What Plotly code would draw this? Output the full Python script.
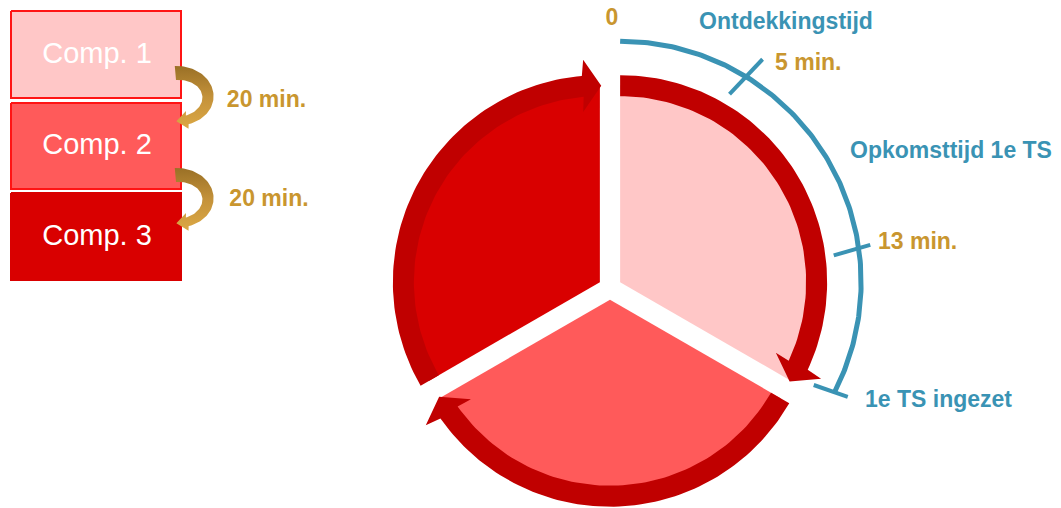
import math
import plotly.graph_objects as go

# ---- data ----
compartments = ["Comp. 1", "Comp. 2", "Comp. 3"]
transfer_minutes = [20, 20]
timeline_minutes = [0, 5, 13]
timeline_end_minutes = 18.6          # "1e TS ingezet"
phase_labels = ["Ontdekkingstijd", "Opkomsttijd 1e TS"]
end_label = "1e TS ingezet"

# ---- styles / layout ----
comp_fill = ["#FFC7C7", "#FF5A5A", "#D90000"]
comp_line = ["#FF1414", "#FF1414", "#D90000"]
RING = "#C00000"
BLUE = "#3A93B4"
GOLD = "#C9962F"
FONT = "Liberation Sans, Arial, sans-serif"

W, H = 1061, 508
CX, CY = 610, 288          # pie centre
GAP = 11.7                 # explode distance of each sector
R_FILL = 197
R_IN, R_OUT = 186, 207     # arrow ring
HEAD_IN, HEAD_OUT = 171, 223
R_TIME = 241
DEG_PER_MIN = 6.3

BOX_X0, BOX_X1 = 10, 182
BOX_TOP = [10, 102, 192]
BOX_H = [89, 88, 89]
CURL_Y = [97, 199]

tick_in = [24, 26, 22]
tick_out = [24, 12, 14]
tick_tilt = [12, -8, -8]
label_pos = [(612, 19.5, "middle center"), (775, 64, "middle right"), (878, 243.5, "middle right")]
phase_pos = [(786, 23), (951, 152.5)]
end_pos = (865, 401.5)
transfer_pos = [(266.5, 101.5), (269, 200)]


def polar(ox, oy, r, deg):
    t = math.radians(deg)
    return ox + r * math.sin(t), oy - r * math.cos(t)


def arc(ox, oy, r, a0, a1, n=80):
    pts = [polar(ox, oy, r, a0 + (a1 - a0) * k / n) for k in range(n + 1)]
    return [p[0] for p in pts], [p[1] for p in pts]


def poly(fig, xs, ys, color, line_color=None, line_width=0, **kw):
    fig.add_trace(go.Scatter(
        x=xs + [xs[0]], y=ys + [ys[0]], mode="lines", fill="toself",
        fillcolor=color, line=dict(color=line_color or color, width=line_width),
        hoverinfo="skip", showlegend=False, **kw))


def text(fig, x, y, s, size, color, pos="middle center", bold=True):
    fig.add_trace(go.Scatter(
        x=[x], y=[y], mode="text", text=[s], textposition=pos, cliponaxis=False,
        textfont=dict(family=FONT, size=size, color=color, weight="bold" if bold else "normal"),
        hoverinfo="skip", showlegend=False))


fig = go.Figure()

# ---- compartment boxes ----
for i, name in enumerate(compartments):
    x0, x1 = BOX_X0 + 1, BOX_X1 - 1
    y0, y1 = BOX_TOP[i] + 1, BOX_TOP[i] + BOX_H[i] - 1
    poly(fig, [x0, x1, x1, x0], [y0, y0, y1, y1], comp_fill[i], comp_line[i], 2)
    text(fig, (BOX_X0 + BOX_X1) / 2 + 1, BOX_TOP[i] + BOX_H[i] / 2 + 1, name, 29, "white", bold=False)

# ---- gold curved arrows between boxes ----
for j, mins in enumerate(transfer_minutes):
    cx, cy = 178, CURL_Y[j]
    a, b = 30, 24
    phis = [-95 + (72 + 95) * k / 60 for k in range(61)]
    outer, inner = [], []
    for p in phis:
        t = 7 - 2.5 * (p + 95) / 167
        r = math.radians(p)
        outer.append((cx + (a + t) * math.cos(r), cy + (b + t) * math.sin(r)))
        inner.append((cx + (a - t) * math.cos(r), cy + (b - t) * math.sin(r)))
    r = math.radians(72)
    bx, by = cx + a * math.cos(r), cy + b * math.sin(r)
    dx, dy = -0.99, 0.14
    head = [(bx + 0.14 * 9, by + 0.99 * 9), (bx + dx * 11, by + dy * 11), (bx - 0.14 * 9, by - 0.99 * 9)]
    pts = outer + head + inner[::-1]
    fig.add_trace(go.Scatter(
        x=[p[0] for p in pts] + [pts[0][0]], y=[p[1] for p in pts] + [pts[0][1]],
        mode="lines", fill="toself", line=dict(width=0, color="#C9962F"),
        fillgradient=dict(type="vertical", colorscale=[[0, "#DCA845"], [0.5, "#C4923A"], [1, "#9A7026"]]),
        hoverinfo="skip", showlegend=False))
    text(fig, transfer_pos[j][0], transfer_pos[j][1], f"{mins} min.", 23, GOLD)

# ---- exploded pie with circular arrows ----
span = 360 / len(compartments)
apexes = []
for i in range(len(compartments)):
    start = i * span
    end = start + span
    ox, oy = polar(CX, CY, GAP, start + span / 2)
    apexes.append((ox, oy))
    ax_, ay_ = arc(ox, oy, R_FILL, start, end)
    poly(fig, [ox] + ax_, [oy] + ay_, comp_fill[i])

    shaft_end = end - 5
    oxs, oys = arc(ox, oy, R_OUT, start, shaft_end)
    ixs, iys = arc(ox, oy, R_IN, start, shaft_end)
    ho = polar(ox, oy, HEAD_OUT, end - 4.3)
    tip = polar(ox, oy, (R_IN + R_OUT) / 2, end + 0.4)
    hi = polar(ox, oy, HEAD_IN, end - 5.6)
    xs = oxs + [ho[0], tip[0], hi[0]] + ixs[::-1]
    ys = oys + [ho[1], tip[1], hi[1]] + iys[::-1]
    poly(fig, xs, ys, RING)

# ---- timeline arc ----
tx, ty = apexes[0]
end_deg = timeline_end_minutes * DEG_PER_MIN
axs, ays = arc(tx, ty, R_TIME, timeline_minutes[0] * DEG_PER_MIN, end_deg, 160)
fig.add_trace(go.Scatter(x=axs, y=ays, mode="lines", line=dict(color=BLUE, width=5),
                         hoverinfo="skip", showlegend=False))

tick_deg = [m * DEG_PER_MIN for m in timeline_minutes[1:]] + [end_deg]
for k, d in enumerate(tick_deg):
    mx, my = polar(tx, ty, R_TIME, d)
    ux, uy = polar(0, 0, 1, d + tick_tilt[k])
    p0 = (mx - ux * tick_in[k], my - uy * tick_in[k])
    p1 = (mx + ux * tick_out[k], my + uy * tick_out[k])
    fig.add_trace(go.Scatter(x=[p0[0], p1[0]], y=[p0[1], p1[1]], mode="lines",
                             line=dict(color=BLUE, width=4),
                             hoverinfo="skip", showlegend=False))

# ---- labels ----
for k, m in enumerate(timeline_minutes):
    x, y, pos = label_pos[k]
    text(fig, x, y, "0" if m == 0 else f"{m} min.", 23, GOLD, pos)
for k, lab in enumerate(phase_labels):
    text(fig, phase_pos[k][0], phase_pos[k][1], lab, 23, BLUE)
text(fig, end_pos[0], end_pos[1], end_label, 23, BLUE, "middle right")

fig.update_layout(
    width=W, height=H,
    margin=dict(l=0, r=0, t=0, b=0, pad=0),
    paper_bgcolor="white", plot_bgcolor="white",
    xaxis=dict(range=[0, W], visible=False, fixedrange=True),
    yaxis=dict(range=[H, 0], visible=False, fixedrange=True),
    showlegend=False,
)

fig.write_html("out.html", config={"displayModeBar": False},
               post_script="document.body.style.margin='0';document.body.style.overflow='hidden';")
